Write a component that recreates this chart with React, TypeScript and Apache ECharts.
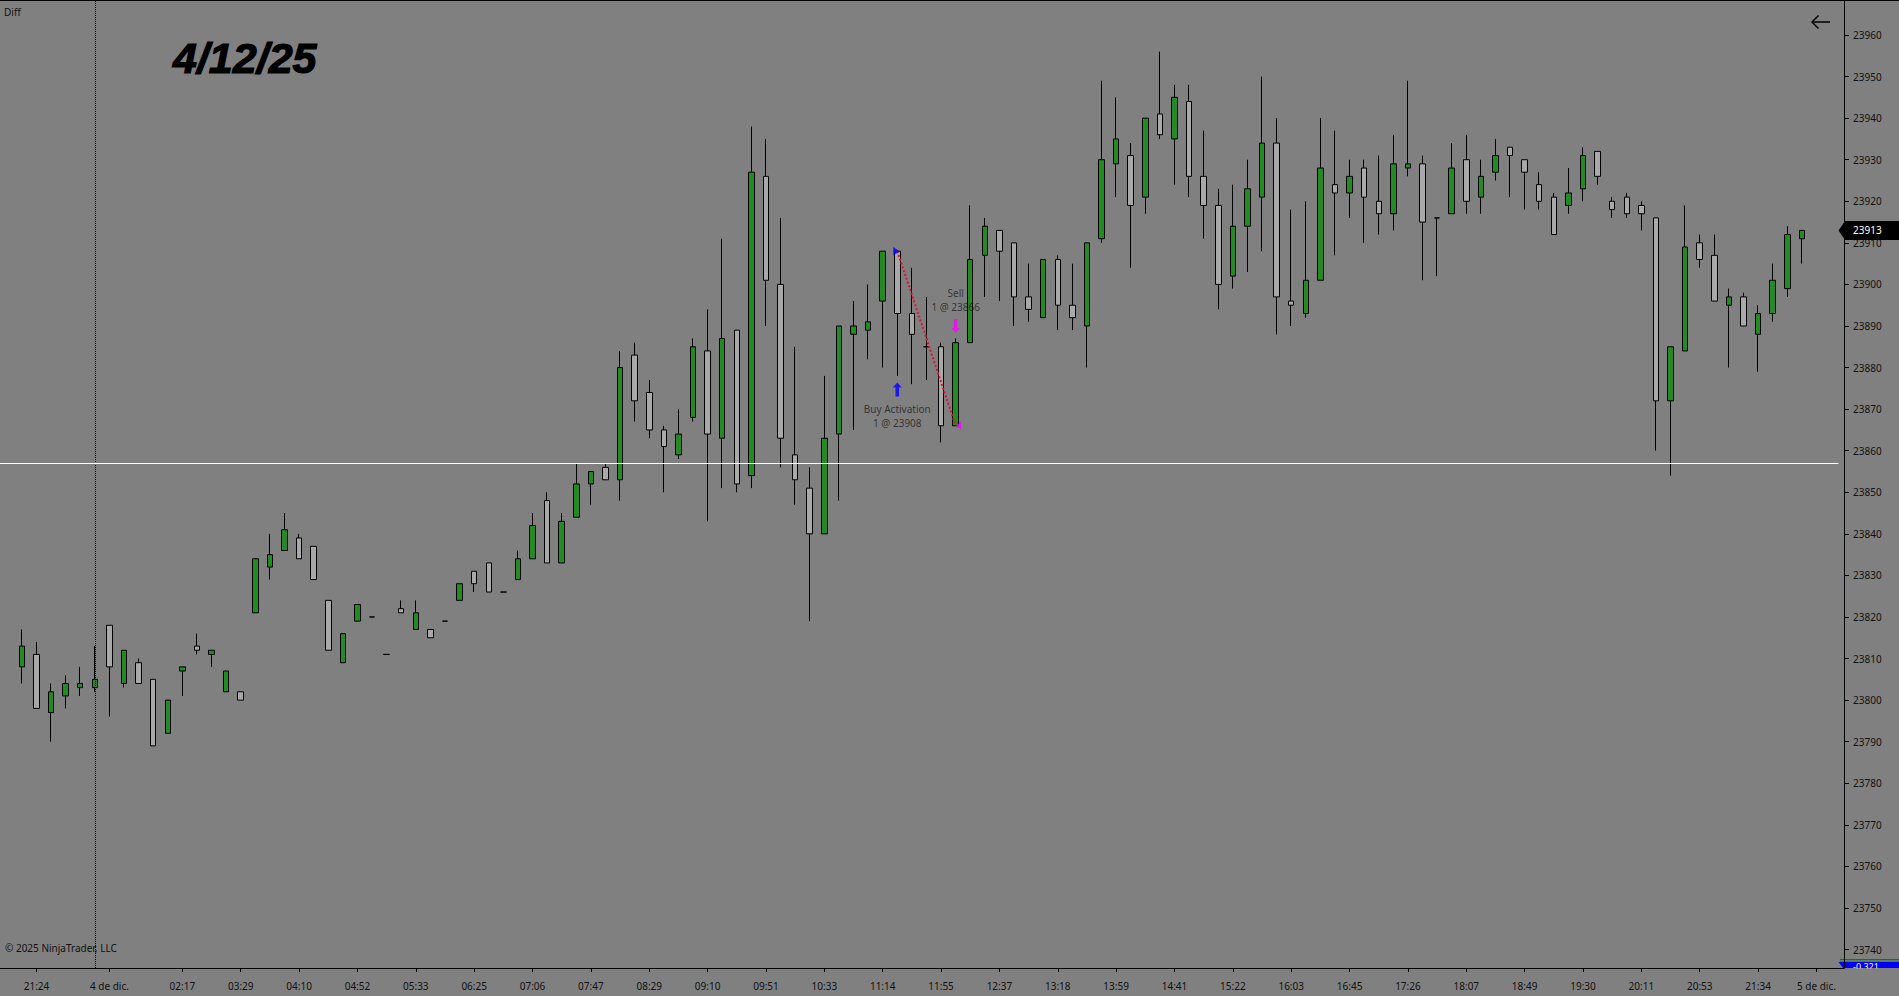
import { useEffect, useRef } from 'react';
import * as echarts from 'echarts';

// 10-min candles, 3-4 Dec session
const opens = [
  23808, 23811, 23797, 23801, 23803, 23803, 23818, 23804, 23809, 23805,
  23792, 23807, 23813, 23811, 23802, 23802, 23821, 23832, 23836, 23839,
  23837, 23824, 23809, 23819, 23820, 23811, 23822, 23817, 23817, 23819,
  23824, 23831, 23833, 23826, 23829, 23834, 23848, 23833, 23844, 23852,
  23856, 23853, 23883, 23874, 23865, 23859, 23868, 23884, 23863, 23889,
  23854, 23926, 23900, 23859, 23851, 23840, 23864, 23888, 23889, 23896,
  23908, 23893, 23885, 23885, 23866, 23886, 23907, 23913, 23910, 23897,
  23892, 23906, 23895, 23890, 23911, 23929, 23931, 23921, 23941, 23935,
  23944, 23926, 23919, 23902, 23914, 23921, 23934, 23896, 23893, 23901,
  23924, 23922, 23928, 23920, 23917, 23928, 23929, 23916, 23917, 23930,
  23921, 23927, 23933, 23930, 23924, 23921, 23919, 23923, 23932, 23920,
  23921, 23919, 23916, 23872, 23884, 23910, 23907, 23895, 23897, 23888,
  23893, 23899, 23911,
];
const closes = [
  23813, 23798, 23802, 23804, 23804, 23805, 23808, 23812, 23804, 23789,
  23800, 23808, 23812, 23812, 23807, 23800, 23834, 23835, 23841, 23834,
  23829, 23812, 23816, 23823, 23820, 23811, 23821, 23821, 23815, 23819,
  23828, 23828, 23826, 23826, 23834, 23842, 23833, 23843, 23852, 23855,
  23853, 23880, 23872, 23865, 23861, 23864, 23885, 23864, 23887, 23852,
  23927, 23901, 23863, 23853, 23840, 23863, 23890, 23890, 23891, 23908,
  23893, 23888, 23885, 23866, 23886, 23906, 23914, 23908, 23897, 23894,
  23906, 23895, 23892, 23910, 23930, 23935, 23919, 23940, 23936, 23945,
  23926, 23919, 23900, 23914, 23923, 23934, 23897, 23895, 23901, 23928,
  23922, 23926, 23921, 23917, 23929, 23929, 23915, 23916, 23928, 23920,
  23926, 23931, 23931, 23927, 23920, 23912, 23922, 23931, 23926, 23918,
  23917, 23917, 23872, 23885, 23909, 23906, 23896, 23897, 23890, 23893,
  23901, 23912, 23913,
];
const lows = [
  23804, 23798, 23790, 23798, 23801, 23802, 23796, 23803, 23804, 23789,
  23792, 23801, 23811, 23808, 23802, 23800, 23821, 23829, 23836, 23834,
  23829, 23812, 23809, 23819, 23820, 23811, 23821, 23817, 23815, 23819,
  23824, 23826, 23826, 23826, 23829, 23834, 23833, 23833, 23844, 23847,
  23853, 23848, 23867, 23863, 23850, 23858, 23867, 23843, 23851, 23850,
  23851, 23890, 23856, 23847, 23819, 23840, 23848, 23865, 23882, 23880,
  23878, 23876, 23877, 23862, 23866, 23886, 23897, 23896, 23890, 23891,
  23892, 23889, 23889, 23880, 23910, 23921, 23904, 23917, 23935, 23924,
  23921, 23911, 23894, 23899, 23903, 23908, 23888, 23890, 23892, 23901,
  23907, 23916, 23910, 23912, 23913, 23926, 23901, 23902, 23917, 23917,
  23917, 23925, 23921, 23918, 23918, 23912, 23917, 23920, 23924, 23916,
  23916, 23913, 23860, 23854, 23884, 23904, 23896, 23880, 23890, 23879,
  23891, 23897, 23905,
];
const highs = [
  23817, 23814, 23804, 23806, 23808, 23813, 23818, 23812, 23810, 23805,
  23800, 23808, 23816, 23812, 23807, 23802, 23834, 23840, 23845, 23840,
  23837, 23824, 23816, 23823, 23820, 23811, 23824, 23824, 23817, 23819,
  23828, 23831, 23833, 23826, 23836, 23845, 23850, 23845, 23857, 23855,
  23857, 23884, 23886, 23877, 23866, 23870, 23887, 23894, 23911, 23889,
  23938, 23935, 23916, 23885, 23856, 23878, 23890, 23896, 23900, 23908,
  23908, 23904, 23897, 23886, 23887, 23919, 23916, 23913, 23910, 23905,
  23906, 23907, 23905, 23910, 23949, 23945, 23934, 23940, 23956, 23948,
  23948, 23937, 23923, 23924, 23930, 23950, 23940, 23918, 23920, 23940,
  23937, 23930, 23930, 23931, 23936, 23949, 23931, 23916, 23934, 23936,
  23930, 23935, 23933, 23930, 23927, 23922, 23928, 23933, 23932, 23921,
  23922, 23920, 23916, 23885, 23919, 23912, 23912, 23899, 23898, 23895,
  23905, 23914, 23913,
];

// time axis labels and the candle each one sits under
const tickCandles = [
  1, 6, 11, 15, 19, 23, 27, 31, 35, 39, 43, 47, 51, 55, 59, 63,
  67, 71, 75, 79, 83, 87, 91, 95, 99, 103, 107, 111, 115, 119, 123,
];
const tickLabels = [
  '21:24', '4 de dic.', '02:17', '03:29', '04:10', '04:52', '05:33', '06:25',
  '07:06', '07:47', '08:29', '09:10', '09:51', '10:33', '11:14', '11:55',
  '12:37', '13:18', '13:59', '14:41', '15:22', '16:03', '16:45', '17:26',
  '18:07', '18:49', '19:30', '20:11', '20:53', '21:34', '5 de dic.',
];
const priceTicks = [
  23740, 23750, 23760, 23770, 23780, 23790, 23800, 23810, 23820, 23830, 23840, 23850,
  23860, 23870, 23880, 23890, 23900, 23910, 23920, 23930, 23940, 23950, 23960,
];

const SESSION_BREAK = 5; // candle index of the dotted session line
const HLINE_PRICE = 23857;
const ENTRY = { candle: 60, price: 23908, arrow: 23874.7, text: 23868.3 };
const EXIT = { candle: 64, price: 23866, arrow: 23890, text: 23896.3 };

const Y_MIN = 23735.56;
const Y_MAX = 23968.42;

const LEAD = 1;
const TRAIL = 2;
const SLOT_W = 14.59;
const AXIS_X = 1844;
const PLOT_H = 968;

const FONT = '"Noto Sans", "Open Sans", sans-serif';
const TEXT = '#111';

export default function App() {
  const chartRef = useRef<HTMLDivElement>(null);

  useEffect(() => {
    if (!chartRef.current) return;
    const chart = echarts.init(chartRef.current, null, { renderer: 'svg' });

    const slotCount = LEAD + opens.length + TRAIL;
    const slots = Array.from({ length: slotCount }, (_, k) => String(k));
    const labelBySlot = new Map<number, string>(tickCandles.map((c, k) => [c + LEAD, tickLabels[k]]));
    const showSlot = (idx: number) => labelBySlot.has(idx);

    const candles = opens.map((o, i) => [i + LEAD, o, closes[i], lows[i], highs[i]]);

    const textLabel = (text: string) => ({
      show: true,
      position: 'inside',
      formatter: text,
      color: '#1e1e1e',
      fontSize: 10,
      fontFamily: FONT,
      lineHeight: 14,
      align: 'center',
    });

    const option: echarts.EChartsOption = {
      animation: false,
      backgroundColor: '#808080',
      grid: [
        { left: 0, top: 0, width: slotCount * SLOT_W, height: PLOT_H },
        { left: 0, top: 0, width: AXIS_X, height: PLOT_H },
      ],
      xAxis: [
        {
          type: 'category',
          gridIndex: 0,
          data: slots,
          boundaryGap: true,
          axisLine: { show: false },
          axisTick: {
            show: true,
            alignWithLabel: true,
            interval: (idx: number) => showSlot(idx),
            length: 4,
            lineStyle: { color: '#000' },
          },
          axisLabel: {
            interval: (idx: number) => showSlot(idx),
            formatter: (_v: string, idx: number) => labelBySlot.get(idx) ?? '',
            color: TEXT,
            fontSize: 10,
            fontFamily: FONT,
            margin: 13,
          },
          splitLine: { show: false },
        },
        {
          type: 'value',
          gridIndex: 1,
          min: 0,
          max: 1,
          axisLine: { show: true, onZero: false, lineStyle: { color: '#000', width: 1 } },
          axisTick: { show: false },
          axisLabel: { show: false },
          splitLine: { show: false },
        },
      ],
      yAxis: [
        {
          type: 'value',
          gridIndex: 0,
          min: Y_MIN,
          max: Y_MAX,
          show: false,
          axisLine: { show: false },
          axisTick: { show: false },
          axisLabel: { show: false },
          splitLine: { show: false },
        },
        {
          type: 'value',
          gridIndex: 1,
          position: 'right',
          min: Y_MIN,
          max: Y_MAX,
          axisLine: { show: true, onZero: false, lineStyle: { color: '#000', width: 1 } },
          axisTick: { show: true, customValues: priceTicks, length: 5, lineStyle: { color: '#000' } },
          axisLabel: {
            customValues: priceTicks,
            formatter: (v: number) => String(v),
            color: TEXT,
            fontSize: 10,
            fontFamily: FONT,
            margin: 9,
          },
          splitLine: { show: false },
        },
      ],
      series: [
        {
          type: 'candlestick',
          xAxisIndex: 0,
          yAxisIndex: 0,
          encode: { x: 0, y: [1, 2, 3, 4] },
          barWidth: 6,
          silent: true,
          itemStyle: {
            color: '#228B22',
            color0: '#A9A9A9',
            borderColor: '#000',
            borderColor0: '#000',
            borderWidth: 1,
          },
          data: candles,
          markLine: {
            silent: true,
            symbol: ['none', 'none'],
            label: { show: false },
            data: [
              { xAxis: SESSION_BREAK + LEAD, lineStyle: { color: '#000', type: 'dotted', width: 1 } },
              { yAxis: HLINE_PRICE, lineStyle: { color: '#fff', type: 'solid', width: 1 } },
              [
                {
                  coord: [ENTRY.candle + LEAD, ENTRY.price],
                  lineStyle: { color: '#DC143C', type: 'dotted', width: 2 },
                },
                { coord: [EXIT.candle + LEAD, EXIT.price] },
              ],
            ],
          } as any,
        },
        {
          type: 'scatter',
          xAxisIndex: 0,
          yAxisIndex: 0,
          silent: true,
          z: 5,
          data: [
            {
              value: [ENTRY.candle + LEAD, ENTRY.price],
              symbol: 'path://M0,0L10,5L0,10Z',
              symbolSize: [6, 9],
              symbolOffset: [-1, 0],
              itemStyle: { color: '#0000FF' },
            },
            {
              value: [EXIT.candle + LEAD, EXIT.price],
              symbol: 'path://M10,0L0,5L10,10Z',
              symbolSize: [5, 9],
              symbolOffset: [3, 0],
              itemStyle: { color: '#FF00FF' },
            },
            {
              value: [ENTRY.candle + LEAD, ENTRY.arrow],
              symbol: 'path://M5,0L10,5L7,5L7,14L3,14L3,5L0,5Z',
              symbolSize: [9, 14],
              itemStyle: { color: '#0000FF' },
            },
            {
              value: [EXIT.candle + LEAD, EXIT.arrow],
              symbol: 'path://M3,0L7,0L7,9L10,9L5,14L0,9L3,9Z',
              symbolSize: [9, 14],
              itemStyle: { color: '#FF00FF' },
            },
            {
              value: [ENTRY.candle + LEAD, ENTRY.text],
              symbolSize: 0,
              label: textLabel(`Buy Activation\n1 @ ${ENTRY.price}`),
            },
            {
              value: [EXIT.candle + LEAD, EXIT.text],
              symbolSize: 0,
              label: textLabel(`Sell\n1 @ ${EXIT.price}`),
            },
          ],
        } as any,
      ],
      graphic: [
        { id: 'topBorder', type: 'line', shape: { x1: 0, y1: 0.5, x2: 1899, y2: 0.5 }, style: { stroke: '#000', lineWidth: 1 } },
        { id: 'diff', type: 'text', x: 4, y: 12, style: { text: 'Diff', fill: TEXT, font: `10px ${FONT}`, verticalAlign: 'middle' } },
        {
          id: 'title',
          type: 'text',
          x: 173,
          y: 57.5,
          style: {
            text: '4/12/25',
            fill: '#000',
            stroke: '#000',
            lineWidth: 1.2,
            font: 'italic bold 43px "Liberation Sans", Arial, sans-serif',
            verticalAlign: 'middle',
          },
        },
        {
          id: 'copyright',
          type: 'text',
          x: 5,
          y: 948,
          style: { text: '© 2025 NinjaTrader, LLC', fill: TEXT, font: `10px ${FONT}`, verticalAlign: 'middle' },
        },
        { id: 'backShaft', type: 'line', shape: { x1: 1812, y1: 22, x2: 1830, y2: 22 }, style: { stroke: '#000', lineWidth: 1.5 } },
        {
          id: 'backHead',
          type: 'polyline',
          shape: { points: [[1818.5, 15.5], [1812, 22], [1818.5, 28.5]] },
          style: { stroke: '#000', lineWidth: 1.5, fill: 'none' },
        },
        { id: 'diffRed', type: 'line', shape: { x1: 1840, y1: 959.5, x2: 1899, y2: 959.5 }, style: { stroke: '#ff0000', lineWidth: 1 } },
        { id: 'diffGreen', type: 'line', shape: { x1: 1840, y1: 961.2, x2: 1899, y2: 961.2 }, style: { stroke: '#00a000', lineWidth: 1 } },
        {
          id: 'diffBox',
          type: 'polygon',
          shape: { points: [[1838.5, 962], [1899, 962], [1899, 968], [1843, 968]] },
          style: { fill: '#0000ff' },
        },
        {
          id: 'diffText',
          type: 'text',
          x: 1853,
          y: 966.5,
          style: { text: '-0,321', fill: '#fff', font: `9px ${FONT}`, verticalAlign: 'middle' },
        },
        {
          id: 'diffCover',
          type: 'rect',
          shape: { x: 1845, y: 968.5, width: 54, height: 8 },
          style: { fill: '#808080' },
        },
      ],
    };

    chart.setOption(option);

    // current-price tag on the price axis
    const lastClose = closes[closes.length - 1];
    const py = chart.convertToPixel({ yAxisIndex: 1 }, lastClose) as number;
    chart.setOption({
      graphic: [
        {
          id: 'tagBox',
          type: 'polygon',
          z: 100,
          shape: { points: [[1838.5, py], [1845, py - 9.5], [1899, py - 9.5], [1899, py + 9.5], [1845, py + 9.5]] },
          style: { fill: '#000' },
        },
        {
          id: 'tagText',
          type: 'text',
          z: 101,
          x: 1853,
          y: py,
          style: { text: String(lastClose), fill: '#fff', font: `10px ${FONT}`, verticalAlign: 'middle' },
        },
      ],
    });

    const handleResize = () => chart.resize();
    window.addEventListener('resize', handleResize);
    return () => {
      window.removeEventListener('resize', handleResize);
      chart.dispose();
    };
  }, []);

  return <div ref={chartRef} style={{ position: 'fixed', left: 0, top: 0, width: '100vw', height: '100vh' }} />;
}
